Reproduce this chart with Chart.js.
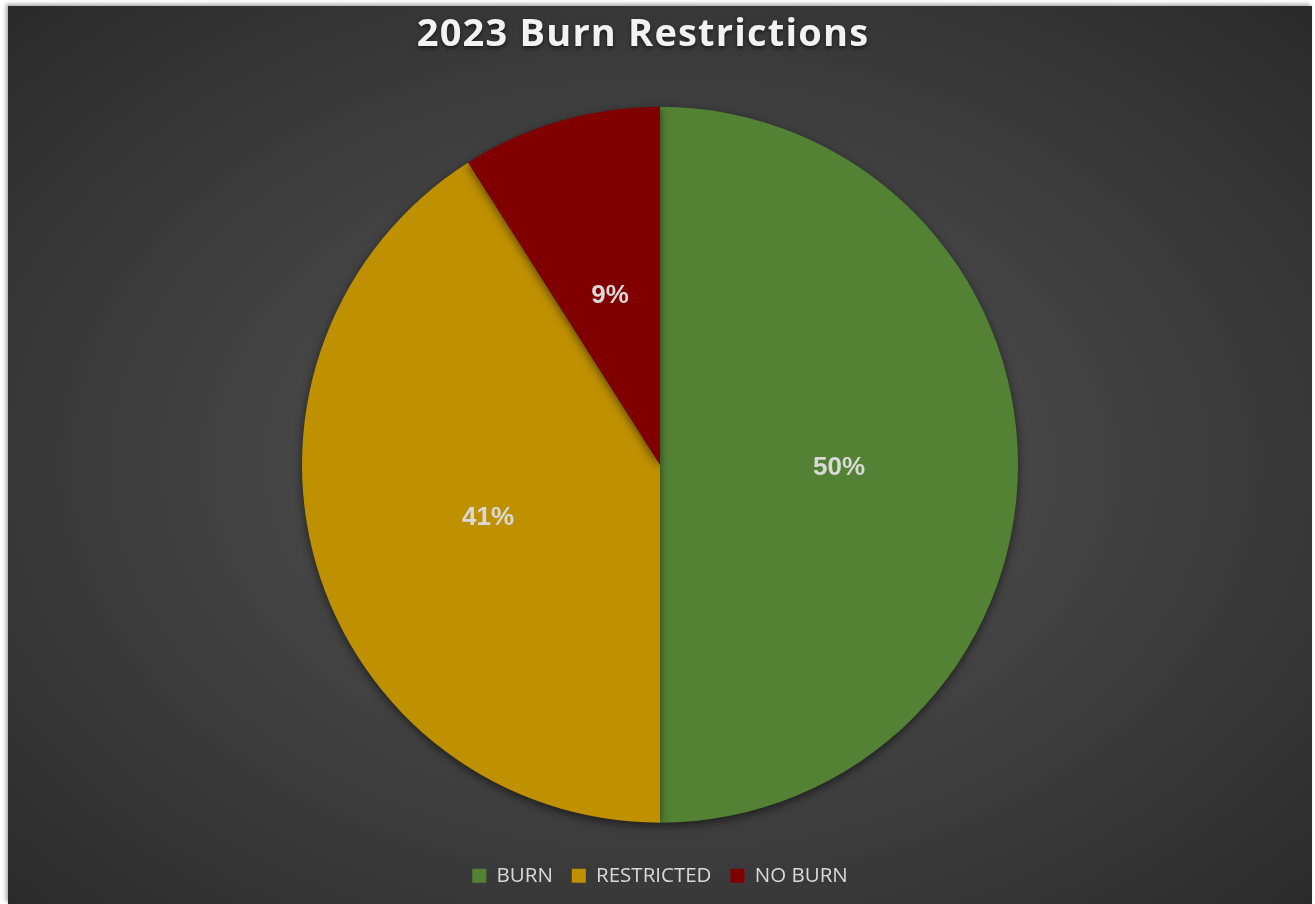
<!DOCTYPE html>
<html>
<head>
<meta charset="utf-8">
<script src="https://cdn.jsdelivr.net/npm/chart.js@4"></script>
<style>
  html, body { margin: 0; padding: 0; background: #fff; }
  #frame {
    position: absolute; left: 8px; top: 6px; width: 1304px; height: 898px;
    background: radial-gradient(ellipse at 50% 51%, #525252 0%, #454545 40%, #2a2a2a 100%);
    box-shadow: -2px -2px 4px rgba(0,0,0,0.35);
  }
  #chart { position: absolute; left: 0; top: 0; }
</style>
</head>
<body>
<div id="frame"><canvas id="chart" width="1304" height="898"></canvas></div>
<script>
// chart data
const chartTitle = '2023 Burn Restrictions';
const categories = ['BURN', 'RESTRICTED', 'NO BURN'];
const shares = [50, 41, 9];
const sliceColors = ['#548235', '#BF9000', '#800000'];

// percent labels inside slices
const sliceLabels = {
  id: 'sliceLabels',
  afterDatasetsDraw(chart) {
    const ctx = chart.ctx;
    const meta = chart.getDatasetMeta(0);
    const total = shares.reduce((a, b) => a + b, 0);
    ctx.save();
    ctx.font = 'bold 26px "Liberation Sans", Arial, sans-serif';
    ctx.fillStyle = '#d9d9d9';
    ctx.textAlign = 'center';
    ctx.textBaseline = 'middle';
    meta.data.forEach((arc, i) => {
      const p = arc.tooltipPosition();
      ctx.fillText(Math.round(shares[i] / total * 100) + '%', p.x, p.y + 3);
    });
    ctx.restore();
  }
};

// spaced title with soft shadow
const spacedTitle = {
  id: 'spacedTitle',
  afterDraw(chart) {
    const ctx = chart.ctx;
    ctx.save();
    ctx.font = 'bold 38px "Open Sans", sans-serif';
    ctx.letterSpacing = '1.2px';
    ctx.fillStyle = '#f2f2f2';
    ctx.textAlign = 'center';
    ctx.textBaseline = 'alphabetic';
    ctx.shadowColor = 'rgba(0,0,0,0.6)';
    ctx.shadowBlur = 4;
    ctx.shadowOffsetY = 2;
    ctx.fillText(chartTitle, 635, 40);
    ctx.restore();
  }
};

// drop shadow under the pie
const pieShadow = {
  id: 'pieShadow',
  beforeDatasetsDraw(chart) {
    const ctx = chart.ctx;
    ctx.save();
    ctx.shadowColor = 'rgba(0,0,0,0.55)';
    ctx.shadowBlur = 10;
    ctx.shadowOffsetY = 3;
  },
  afterDatasetsDraw(chart) {
    chart.ctx.restore();
  }
};

new Chart(document.getElementById('chart'), {
  type: 'pie',
  data: {
    labels: categories,
    datasets: [{
      data: shares,
      backgroundColor: sliceColors,
      borderWidth: 0
    }]
  },
  options: {
    responsive: false,
    animation: false,
    radius: 358,
    layout: { padding: { top: 77, bottom: 8 } },
    plugins: {
      title: { display: false },
      tooltip: { enabled: false },
      legend: {
        position: 'bottom',
        labels: {
          color: '#d9d9d9',
          boxWidth: 14,
          boxHeight: 14,
          padding: 19,
          font: { family: '"Open Sans", sans-serif', size: 20.5 }
        }
      }
    }
  },
  plugins: [pieShadow, sliceLabels, spacedTitle]
});
</script>
</body>
</html>
